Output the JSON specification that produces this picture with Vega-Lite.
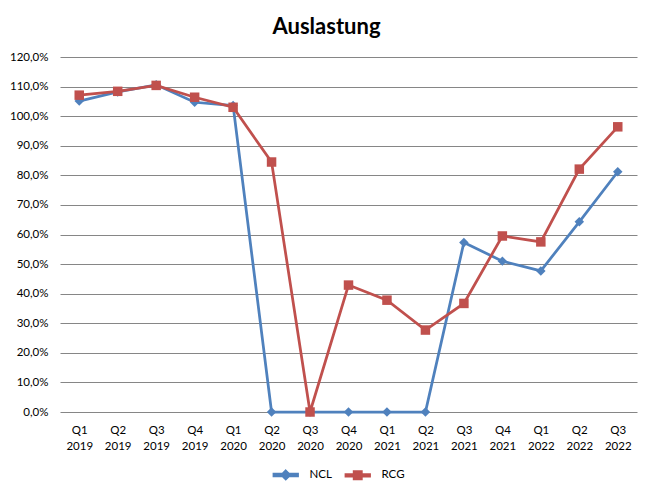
{
  "$schema": "https://vega.github.io/schema/vega-lite/v6.json",
  "width": 577,
  "height": 355,
  "autosize": {"type": "none"},
  "padding": {"left": 60, "top": 57, "right": 15, "bottom": 82},
  "background": "white",
  "title": {
    "text": "Auslastung",
    "font": "Lato",
    "fontSize": 22,
    "fontWeight": "bold",
    "color": "black",
    "anchor": "middle",
    "frame": "group",
    "dx": -22,
    "offset": 12
  },
  "data": {
    "values": [
      {"q": "Q1 2019", "series": "NCL", "v": 1.051},
      {"q": "Q2 2019", "series": "NCL", "v": 1.082},
      {"q": "Q3 2019", "series": "NCL", "v": 1.106},
      {"q": "Q4 2019", "series": "NCL", "v": 1.047},
      {"q": "Q1 2020", "series": "NCL", "v": 1.036},
      {"q": "Q2 2020", "series": "NCL", "v": 0},
      {"q": "Q3 2020", "series": "NCL", "v": 0},
      {"q": "Q4 2020", "series": "NCL", "v": 0},
      {"q": "Q1 2021", "series": "NCL", "v": 0},
      {"q": "Q2 2021", "series": "NCL", "v": 0},
      {"q": "Q3 2021", "series": "NCL", "v": 0.573},
      {"q": "Q4 2021", "series": "NCL", "v": 0.51},
      {"q": "Q1 2022", "series": "NCL", "v": 0.477},
      {"q": "Q2 2022", "series": "NCL", "v": 0.643},
      {"q": "Q3 2022", "series": "NCL", "v": 0.812},
      {"q": "Q1 2019", "series": "RCG", "v": 1.071},
      {"q": "Q2 2019", "series": "RCG", "v": 1.084},
      {"q": "Q3 2019", "series": "RCG", "v": 1.104},
      {"q": "Q4 2019", "series": "RCG", "v": 1.064},
      {"q": "Q1 2020", "series": "RCG", "v": 1.03},
      {"q": "Q2 2020", "series": "RCG", "v": 0.845},
      {"q": "Q3 2020", "series": "RCG", "v": 0},
      {"q": "Q4 2020", "series": "RCG", "v": 0.429},
      {"q": "Q1 2021", "series": "RCG", "v": 0.378},
      {"q": "Q2 2021", "series": "RCG", "v": 0.277},
      {"q": "Q3 2021", "series": "RCG", "v": 0.367},
      {"q": "Q4 2021", "series": "RCG", "v": 0.595},
      {"q": "Q1 2022", "series": "RCG", "v": 0.575},
      {"q": "Q2 2022", "series": "RCG", "v": 0.821},
      {"q": "Q3 2022", "series": "RCG", "v": 0.964}
    ]
  },
  "encoding": {
    "x": {
      "field": "q",
      "type": "ordinal",
      "sort": null,
      "title": null,
      "axis": {
        "labelExpr": "split(datum.label, ' ')",
        "labelAngle": 0,
        "labelPadding": 12,
        "labelLineHeight": 16,
        "domain": false,
        "ticks": false,
        "grid": false
      }
    },
    "y": {
      "field": "v",
      "type": "quantitative",
      "title": null,
      "scale": {"domain": [0, 1.2], "nice": false},
      "axis": {
        "values": [0, 0.1, 0.2, 0.3, 0.4, 0.5, 0.6, 0.7, 0.8, 0.9, 1, 1.1, 1.2],
        "labelExpr": "replace(format(datum.value, '.1%'), '.', ',')",
        "labelPadding": 12,
        "domain": false,
        "ticks": false,
        "grid": true,
        "gridColor": "#868686",
        "gridWidth": 1,
        "gridOpacity": 1
      }
    },
    "color": {
      "field": "series",
      "type": "nominal",
      "scale": {"domain": ["NCL", "RCG"], "range": ["#4F81BD", "#C0504D"]},
      "legend": {
        "title": null,
        "orient": "none",
        "direction": "horizontal",
        "legendX": 213,
        "legendY": 412,
        "symbolSize": 64,
        "symbolOffset": 7,
        "labelOffset": 18,
        "columnPadding": 10
      }
    }
  },
  "layer": [
    {
      "transform": [{"filter": "datum.series == 'NCL'"}],
      "mark": {"type": "line", "strokeWidth": 2.75}
    },
    {
      "transform": [{"filter": "datum.series == 'NCL'"}],
      "mark": {"type": "point", "shape": "diamond", "filled": true, "size": 90, "opacity": 1, "strokeWidth": 0}
    },
    {
      "transform": [{"filter": "datum.series == 'RCG'"}],
      "mark": {"type": "line", "strokeWidth": 2.75}
    },
    {
      "transform": [{"filter": "datum.series == 'RCG'"}],
      "mark": {"type": "point", "shape": "square", "filled": true, "size": 90, "opacity": 1, "strokeWidth": 0}
    },
    {
      "transform": [{"filter": "false"}],
      "mark": {"type": "point", "filled": true, "opacity": 1, "strokeWidth": 0},
      "encoding": {
        "shape": {
          "field": "series",
          "type": "nominal",
          "scale": {
            "domain": ["NCL", "RCG"],
            "range": [
              "M-3.1,-0.35H3.1V0.35H-3.1Z M0,-1.2L1.2,0L0,1.2L-1.2,0Z",
              "M-3.1,-0.35H3.1V0.35H-3.1Z M-1.05,-1.05H1.05V1.05H-1.05Z"
            ]
          },
          "legend": {
            "title": null,
            "orient": "none",
            "direction": "horizontal",
            "legendX": 213,
            "legendY": 412,
            "symbolSize": 64,
            "symbolOffset": 7,
            "labelOffset": 18,
            "columnPadding": 10
          }
        }
      }
    }
  ],
  "config": {
    "view": {"stroke": null},
    "font": "Lato",
    "axis": {"labelFont": "Lato", "labelFontSize": 11.5, "labelColor": "black"},
    "legend": {"labelFont": "Lato", "labelFontSize": 11.5, "labelColor": "black"}
  }
}
